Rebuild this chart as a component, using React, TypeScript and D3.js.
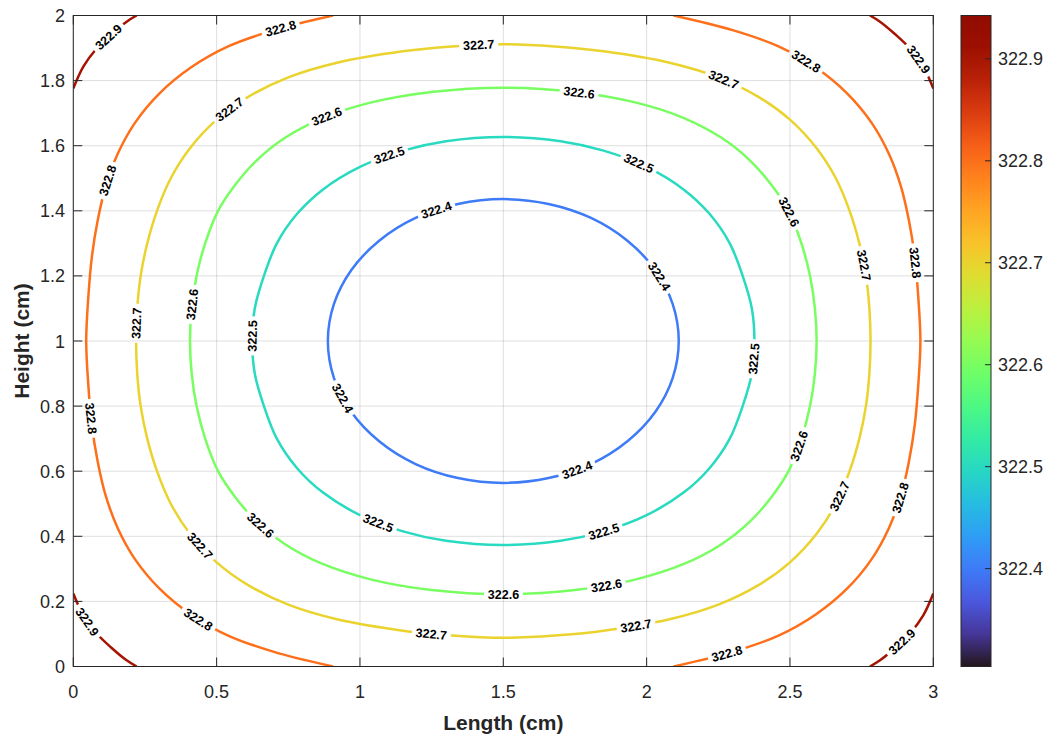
import { useLayoutEffect, useMemo, useRef, useState } from "react";
import * as d3 from "d3";

type Pt = [number, number];

// axis ticks
const xTicks = [0, 0.5, 1, 1.5, 2, 2.5, 3];
const yTicks = [0, 0.2, 0.4, 0.6, 0.8, 1, 1.2, 1.4, 1.6, 1.8, 2];
const cbTicks = [322.4, 322.5, 322.6, 322.7, 322.8, 322.9];
const cbDomain: [number, number] = [322.304, 322.9425];

// contour lines (Length, Height)
const c4: Pt[] = [
  [1.5, 1.436], [1.342, 1.421], [1.194, 1.378], [1.067, 1.308], [0.97, 1.218], [0.909, 1.113],
  [0.888, 1.0], [0.909, 0.887], [0.97, 0.782], [1.067, 0.692], [1.194, 0.622], [1.342, 0.579],
  [1.5, 0.564], [1.658, 0.579], [1.806, 0.622], [1.933, 0.692], [2.03, 0.782], [2.091, 0.887],
  [2.112, 1.0], [2.091, 1.113], [2.03, 1.218], [1.933, 1.308], [1.806, 1.378], [1.658, 1.421],
];
const c5: Pt[] = [
  [1.5, 1.627], [1.3, 1.614], [1.15, 1.585], [1.0, 1.535], [0.87, 1.465], [0.78, 1.39], [0.71, 1.3],
  [0.665, 1.2], [0.633, 1.1], [0.624, 1.0], [0.633, 0.9], [0.665, 0.8], [0.71, 0.7], [0.78, 0.61],
  [0.87, 0.535], [1.0, 0.465], [1.15, 0.415], [1.3, 0.386], [1.5, 0.373], [1.7, 0.386], [1.85, 0.415],
  [2.0, 0.465], [2.13, 0.535], [2.22, 0.61], [2.29, 0.7], [2.335, 0.8], [2.367, 0.9], [2.376, 1.0],
  [2.367, 1.1], [2.335, 1.2], [2.29, 1.3], [2.22, 1.39], [2.13, 1.465], [2.0, 1.535], [1.85, 1.585],
  [1.7, 1.614],
];
const c6: Pt[] = [
  [1.5, 1.778], [1.25, 1.765], [1.04, 1.733], [0.87, 1.685], [0.74, 1.625], [0.64, 1.555], [0.565, 1.48],
  [0.505, 1.4], [0.46, 1.3], [0.43, 1.2], [0.413, 1.1], [0.407, 1.0], [0.413, 0.9], [0.43, 0.8],
  [0.46, 0.7], [0.505, 0.6], [0.565, 0.52], [0.64, 0.445], [0.74, 0.375], [0.87, 0.315], [1.04, 0.267],
  [1.25, 0.235], [1.5, 0.222], [1.75, 0.235], [1.96, 0.267], [2.13, 0.315], [2.26, 0.375], [2.36, 0.445],
  [2.435, 0.52], [2.495, 0.6], [2.54, 0.7], [2.57, 0.8], [2.587, 0.9], [2.593, 1.0], [2.587, 1.1],
  [2.57, 1.2], [2.54, 1.3], [2.495, 1.4], [2.435, 1.48], [2.36, 1.555], [2.26, 1.625], [2.13, 1.685],
  [1.96, 1.733], [1.75, 1.765],
];
const c7: Pt[] = [
  [1.5, 1.912], [1.32, 1.905], [1.15, 1.89], [0.92, 1.855], [0.75, 1.81], [0.61, 1.75], [0.5, 1.68],
  [0.405, 1.59], [0.34, 1.5], [0.292, 1.4], [0.258, 1.3], [0.235, 1.2], [0.223, 1.1], [0.219, 1.0],
  [0.223, 0.9], [0.235, 0.8], [0.258, 0.7], [0.292, 0.6], [0.34, 0.5], [0.405, 0.41], [0.5, 0.32],
  [0.61, 0.25], [0.75, 0.19], [0.92, 0.145], [1.15, 0.11], [1.32, 0.095], [1.5, 0.088], [1.68, 0.095],
  [1.85, 0.11], [2.08, 0.145], [2.25, 0.19], [2.39, 0.25], [2.5, 0.32], [2.595, 0.41], [2.66, 0.5],
  [2.708, 0.6], [2.742, 0.7], [2.765, 0.8], [2.777, 0.9], [2.781, 1.0], [2.777, 1.1], [2.765, 1.2],
  [2.742, 1.3], [2.708, 1.4], [2.66, 1.5], [2.595, 1.59], [2.5, 1.68], [2.39, 1.75], [2.25, 1.81],
  [2.08, 1.855], [1.85, 1.89], [1.68, 1.905],
];
const c8Left: Pt[] = [
  [0.906, 2.0], [0.7, 1.955], [0.54, 1.905], [0.41, 1.84], [0.3, 1.76], [0.215, 1.67], [0.155, 1.575],
  [0.113, 1.475], [0.085, 1.37], [0.065, 1.26], [0.052, 1.13], [0.045, 1.0], [0.052, 0.87], [0.065, 0.74],
  [0.085, 0.63], [0.113, 0.525], [0.155, 0.425], [0.215, 0.33], [0.3, 0.24], [0.41, 0.16], [0.54, 0.095],
  [0.7, 0.045], [0.906, 0.0],
];
const c8Right: Pt[] = [
  [2.094, 2.0], [2.3, 1.955], [2.46, 1.905], [2.59, 1.84], [2.7, 1.76], [2.785, 1.67], [2.845, 1.575],
  [2.887, 1.475], [2.915, 1.37], [2.935, 1.26], [2.948, 1.13], [2.955, 1.0], [2.948, 0.87], [2.935, 0.74],
  [2.915, 0.63], [2.887, 0.525], [2.845, 0.425], [2.785, 0.33], [2.7, 0.24], [2.59, 0.16], [2.46, 0.095],
  [2.3, 0.045], [2.094, 0.0],
];
const c9TL: Pt[] = [[0, 1.776], [0.035, 1.843], [0.08, 1.897], [0.13, 1.94], [0.186, 1.981], [0.221, 2.0]];
const c9TR: Pt[] = [[2.779, 2.0], [2.814, 1.981], [2.87, 1.94], [2.92, 1.897], [2.965, 1.843], [3.0, 1.776]];
const c9BL: Pt[] = [[0, 0.224], [0.035, 0.157], [0.08, 0.103], [0.13, 0.06], [0.186, 0.019], [0.221, 0.0]];
const c9BR: Pt[] = [[2.779, 0.0], [2.814, 0.019], [2.87, 0.06], [2.92, 0.103], [2.965, 0.157], [3.0, 0.224]];

const contours: { level: number; closed: boolean; pieces: Pt[][] }[] = [
  { level: 322.4, closed: true, pieces: [c4] },
  { level: 322.5, closed: true, pieces: [c5] },
  { level: 322.6, closed: true, pieces: [c6] },
  { level: 322.7, closed: true, pieces: [c7] },
  { level: 322.8, closed: false, pieces: [c8Left, c8Right] },
  { level: 322.9, closed: false, pieces: [c9TL, c9TR, c9BL, c9BR] },
];

// inline label spots [level, length, height]
const labelSpots: [number, number, number][] = [
  [322.9, 0.128, 1.931], [322.9, 2.936, 1.857], [322.9, 0.058, 0.143], [322.9, 2.901, 0.066],
  [322.8, 0.721, 1.965], [322.8, 2.562, 1.864], [322.8, 0.107, 1.495], [322.8, 0.051, 0.763],
  [322.8, 0.431, 0.134], [322.8, 2.283, 0.036], [322.8, 2.939, 1.243], [322.8, 2.883, 0.518],
  [322.7, 1.415, 1.91], [322.7, 2.266, 1.802], [322.7, 0.547, 1.707], [322.7, 0.219, 1.055],
  [322.7, 0.442, 0.373], [322.7, 1.247, 0.094], [322.7, 1.963, 0.119], [322.7, 2.751, 1.233],
  [322.7, 2.667, 0.524],
  [322.6, 0.888, 1.679], [322.6, 1.764, 1.762], [322.6, 0.418, 1.111], [322.6, 0.658, 0.438],
  [322.6, 1.498, 0.217], [322.6, 1.858, 0.247], [322.6, 2.486, 1.393], [322.6, 2.528, 0.68],
  [322.5, 1.101, 1.568], [322.5, 1.97, 1.541], [322.5, 0.627, 1.015], [322.5, 1.063, 0.438],
  [322.5, 1.851, 0.413], [322.5, 2.374, 0.947],
  [322.4, 1.265, 1.4], [322.4, 2.046, 1.197], [322.4, 0.934, 0.819], [322.4, 1.76, 0.595],
];

const W = 1047;
const H = 740;
const plot = { left: 73.3, right: 933.3, top: 15.5, bottom: 666.5 };
const cb = { left: 961, right: 991 };
const FONT = "'Liberation Sans', Arial, Helvetica, sans-serif";
const AX = "#262626";

type Placed = { x: number; y: number; angle: number; text: string };

export default function App() {
  const x = d3.scaleLinear().domain([0, 3]).range([plot.left, plot.right]);
  const y = d3.scaleLinear().domain([0, 2]).range([plot.bottom, plot.top]);
  const cy = d3.scaleLinear().domain(cbDomain).range([plot.bottom, plot.top]);
  const color = d3.scaleSequential(d3.interpolateTurbo).domain(cbDomain);

  const pathRefs = useRef<Record<string, SVGPathElement | null>>({});
  const [placed, setPlaced] = useState<Placed[]>([]);

  const paths = useMemo(() => {
    const out: { key: string; level: number; d: string }[] = [];
    contours.forEach((c) => {
      const line = d3
        .line<Pt>()
        .x((p) => x(p[0]))
        .y((p) => y(p[1]))
        .curve(c.closed ? d3.curveCatmullRomClosed.alpha(0.5) : d3.curveCatmullRom.alpha(0.5));
      c.pieces.forEach((pc, i) => out.push({ key: `${c.level}-${i}`, level: c.level, d: line(pc) ?? "" }));
    });
    return out;
  }, []);

  // snap each label onto its contour and align it with the local tangent
  useLayoutEffect(() => {
    const res: Placed[] = labelSpots.map(([lv, lx, ly]) => {
      const tx = x(lx);
      const ty = y(ly);
      let best = { dist: Infinity, el: null as SVGPathElement | null, s: 0 };
      paths
        .filter((p) => p.level === lv)
        .forEach((p) => {
          const el = pathRefs.current[p.key];
          if (!el) return;
          const L = el.getTotalLength();
          for (let s = 0; s <= L; s += 1.5) {
            const q = el.getPointAtLength(s);
            const dd = (q.x - tx) ** 2 + (q.y - ty) ** 2;
            if (dd < best.dist) best = { dist: dd, el, s };
          }
        });
      if (!best.el) return { x: tx, y: ty, angle: 0, text: lv.toFixed(1) };
      const L = best.el.getTotalLength();
      const p = best.el.getPointAtLength(best.s);
      const a = best.el.getPointAtLength(Math.max(0, best.s - 8));
      const b = best.el.getPointAtLength(Math.min(L, best.s + 8));
      let ang = (Math.atan2(b.y - a.y, b.x - a.x) * 180) / Math.PI;
      if (ang > 90) ang -= 180;
      if (ang <= -90) ang += 180;
      return { x: p.x, y: p.y, angle: ang, text: lv.toFixed(1) };
    });
    setPlaced(res);
  }, [paths]);

  const gradStops = d3.range(0, 1.0001, 0.05);

  return (
    <svg
      width={W}
      height={H}
      style={{ position: "absolute", left: 0, top: 0, background: "#fff" }}
      fontFamily={FONT}
    >
      <defs>
        <clipPath id="plotClip">
          <rect x={plot.left} y={plot.top} width={plot.right - plot.left} height={plot.bottom - plot.top} />
        </clipPath>
        <mask id="labelGaps" maskUnits="userSpaceOnUse" x={0} y={0} width={W} height={H}>
          <rect x={0} y={0} width={W} height={H} fill="#fff" />
          {placed.map((l, i) => (
            <rect
              key={i}
              x={-19.5}
              y={-7.5}
              width={39}
              height={15}
              fill="#000"
              transform={`translate(${l.x},${l.y}) rotate(${l.angle})`}
            />
          ))}
        </mask>
        <linearGradient id="cbGrad" x1="0" y1="1" x2="0" y2="0">
          {gradStops.map((t) => (
            <stop key={t} offset={t} stopColor={d3.interpolateTurbo(t)} />
          ))}
        </linearGradient>
      </defs>

      {/* grid */}
      {xTicks.map((t) => (
        <line key={`gx${t}`} x1={x(t)} x2={x(t)} y1={plot.top} y2={plot.bottom} stroke={AX} strokeOpacity={0.15} />
      ))}
      {yTicks.map((t) => (
        <line key={`gy${t}`} x1={plot.left} x2={plot.right} y1={y(t)} y2={y(t)} stroke={AX} strokeOpacity={0.15} />
      ))}

      {/* contours */}
      <g clipPath="url(#plotClip)">
        <g mask={placed.length ? "url(#labelGaps)" : undefined}>
          {paths.map((p) => (
            <path
              key={p.key}
              ref={(el) => {
                pathRefs.current[p.key] = el;
              }}
              d={p.d}
              fill="none"
              stroke={color(p.level)}
              strokeWidth={2.5}
            />
          ))}
        </g>
      </g>
      {placed.map((l, i) => (
        <text
          key={`lb${i}`}
          transform={`translate(${l.x},${l.y}) rotate(${l.angle})`}
          textAnchor="middle"
          dy="0.36em"
          fontSize={12.5}
          fontWeight="bold"
          fill="#000"
        >
          {l.text}
        </text>
      ))}

      {/* axes box + ticks */}
      <rect
        x={plot.left}
        y={plot.top}
        width={plot.right - plot.left}
        height={plot.bottom - plot.top}
        fill="none"
        stroke={AX}
        strokeWidth={1}
      />
      {xTicks.map((t) => (
        <g key={`xt${t}`}>
          <line x1={x(t)} x2={x(t)} y1={plot.bottom} y2={plot.bottom - 9} stroke={AX} />
          <line x1={x(t)} x2={x(t)} y1={plot.top} y2={plot.top + 9} stroke={AX} />
          <text x={x(t)} y={698} textAnchor="middle" fontSize={18} fill={AX}>
            {t}
          </text>
        </g>
      ))}
      {yTicks.map((t) => (
        <g key={`yt${t}`}>
          <line x1={plot.left} x2={plot.left + 9} y1={y(t)} y2={y(t)} stroke={AX} />
          <line x1={plot.right} x2={plot.right - 9} y1={y(t)} y2={y(t)} stroke={AX} />
          <text x={65} y={y(t) + 6.5} textAnchor="end" fontSize={18} fill={AX}>
            {t}
          </text>
        </g>
      ))}
      <text x={(plot.left + plot.right) / 2} y={730} textAnchor="middle" fontSize={21} fontWeight="bold" fill={AX}>
        Length (cm)
      </text>
      <text
        transform={`translate(29,${(plot.top + plot.bottom) / 2}) rotate(-90)`}
        textAnchor="middle"
        fontSize={21}
        fontWeight="bold"
        fill={AX}
      >
        Height (cm)
      </text>

      {/* colorbar */}
      <rect
        x={cb.left}
        y={plot.top}
        width={cb.right - cb.left}
        height={plot.bottom - plot.top}
        fill="url(#cbGrad)"
        stroke={AX}
        strokeWidth={1}
      />
      {cbTicks.map((t) => (
        <g key={`cb${t}`}>
          <line x1={cb.right} x2={cb.right - 6} y1={cy(t)} y2={cy(t)} stroke={AX} />
          <text x={998} y={cy(t) + 6.5} fontSize={18} fill={AX}>
            {t.toFixed(1)}
          </text>
        </g>
      ))}
    </svg>
  );
}
